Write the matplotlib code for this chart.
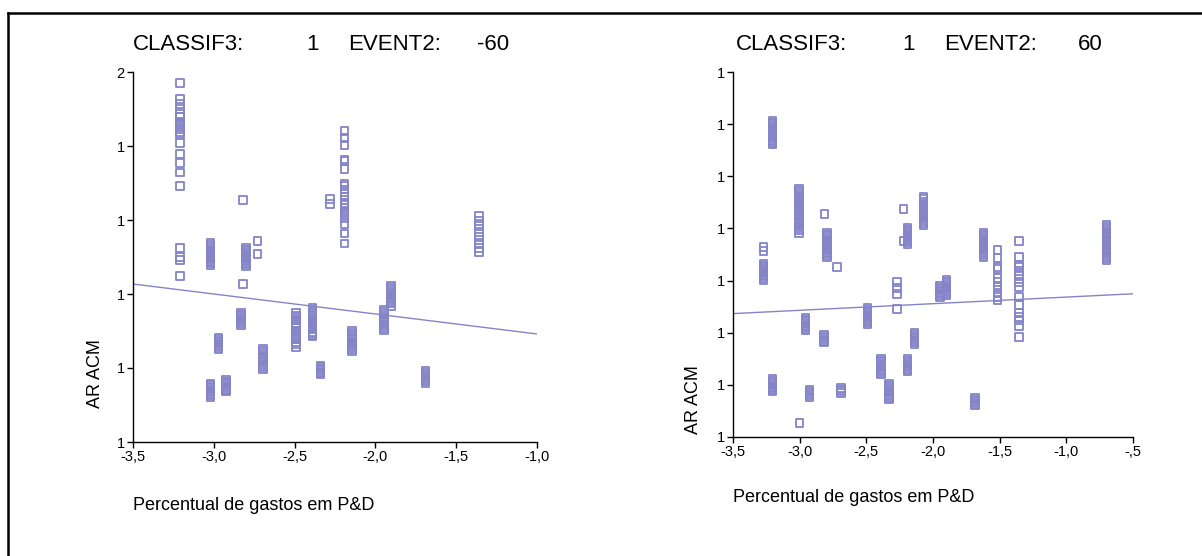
import matplotlib
matplotlib.use("Agg")
import matplotlib.pyplot as plt
from matplotlib.lines import Line2D
from matplotlib.ticker import FuncFormatter, FormatStrFormatter

plt.rcParams["font.family"] = ["Liberation Sans", "DejaVu Sans"]

PURPLE = "#8584c8"

# ---- left panel: CLASSIF3 = 1, EVENT2 = -60 ----
# one x value per column of points, with the y values read for that column
left_col_x = [-3.21, -3.02, -3.02, -2.97, -2.925, -2.82, -2.83, -2.80, -2.73,
              -2.695, -2.28, -2.19, -2.49, -2.39, -2.34, -2.145, -1.947,
              -1.903, -1.69, -1.36]
left_col_y = [
    [1.485, 1.4635, 1.457, 1.45, 1.443, 1.439, 1.432, 1.430, 1.426, 1.423,
     1.419, 1.416, 1.404, 1.389, 1.377, 1.364, 1.346, 1.262, 1.25, 1.246, 1.224],
    [1.269, 1.266, 1.264, 1.261, 1.259, 1.257, 1.255, 1.253, 1.251, 1.249,
     1.247, 1.245, 1.243, 1.241, 1.239],
    [1.079, 1.077, 1.075, 1.073, 1.071, 1.069, 1.067, 1.065, 1.063, 1.061],
    [1.141, 1.139, 1.137, 1.135, 1.133, 1.131, 1.129, 1.127, 1.125],
    [1.084, 1.082, 1.080, 1.078, 1.076, 1.074, 1.072, 1.070, 1.068],
    [1.327, 1.2135],
    [1.174, 1.172, 1.170, 1.168, 1.166, 1.164, 1.162, 1.160, 1.158],
    [1.262, 1.260, 1.258, 1.256, 1.254, 1.252, 1.250, 1.248, 1.246, 1.244,
     1.242, 1.240, 1.238],
    [1.272, 1.254],
    [1.126, 1.123, 1.120, 1.118, 1.115, 1.112, 1.109, 1.107, 1.104, 1.101, 1.099],
    [1.328, 1.322],
    [1.420, 1.411, 1.401, 1.382, 1.380, 1.369, 1.349, 1.346, 1.341, 1.332,
     1.327, 1.323, 1.320, 1.316, 1.311, 1.308, 1.303, 1.295, 1.282, 1.268],
    [1.174, 1.171, 1.169, 1.166, 1.164, 1.161, 1.159, 1.156, 1.154, 1.150,
     1.147, 1.145, 1.142, 1.139, 1.135, 1.132, 1.128],
    [1.181, 1.179, 1.176, 1.174, 1.172, 1.170, 1.167, 1.165, 1.163, 1.161,
     1.159, 1.156, 1.154, 1.152, 1.149, 1.147, 1.145, 1.143],
    [1.103, 1.101, 1.099, 1.097, 1.095, 1.093, 1.092],
    [1.150, 1.148, 1.145, 1.143, 1.141, 1.139, 1.136, 1.134, 1.132, 1.130,
     1.128, 1.126, 1.123],
    [1.178, 1.176, 1.173, 1.171, 1.168, 1.166, 1.164, 1.162, 1.159, 1.157,
     1.154, 1.151],
    [1.211, 1.208, 1.205, 1.203, 1.200, 1.198, 1.195, 1.192, 1.189, 1.187, 1.184],
    [1.096, 1.094, 1.092, 1.090, 1.088, 1.086, 1.084, 1.082, 1.080],
    [1.305, 1.299, 1.292, 1.284, 1.277, 1.269, 1.262, 1.257],
]
left_fit = (1.119, -0.027)          # intercept, slope
left_xticks = [-3.5, -3.0, -2.5, -2.0, -1.5, -1.0]
left_yticks = [1.0, 1.1, 1.2, 1.3, 1.4, 1.5]

# ---- right panel: CLASSIF3 = 1, EVENT2 = 60 ----
right_col_x = [-3.205, -3.27, -3.205, -3.005, -3.00, -2.955, -2.927, -2.815,
               -2.797, -2.817, -2.718, -2.688, -2.49, -2.39, -2.33, -2.272,
               -2.22, -2.19, -2.19, -2.07, -2.14, -1.948, -1.90, -1.685,
               -1.62, -1.515, -1.355, -0.70]
right_col_y = [
    [1.306, 1.303, 1.300, 1.297, 1.294, 1.291, 1.288, 1.285, 1.282, 1.279,
     1.276, 1.273, 1.270, 1.267, 1.264, 1.262],
    [1.064, 1.057, 1.032, 1.029, 1.026, 1.023, 1.020, 1.017, 1.014, 1.011,
     1.008, 1.005, 1.001],
    [0.811, 0.808, 0.805, 0.802, 0.799, 0.796, 0.793, 0.790, 0.788],
    [1.176, 1.172, 1.168, 1.164, 1.160, 1.156, 1.152, 1.148, 1.144, 1.140,
     1.136, 1.132, 1.128, 1.124, 1.120, 1.116, 1.112, 1.108, 1.104, 1.100,
     1.096, 1.091],
    [0.727],
    [0.928, 0.925, 0.922, 0.919, 0.916, 0.913, 0.910, 0.907, 0.905],
    [0.790, 0.787, 0.784, 0.781, 0.777],
    [1.128],
    [1.091, 1.088, 1.085, 1.082, 1.079, 1.076, 1.073, 1.070, 1.067, 1.064,
     1.061, 1.058, 1.055, 1.052, 1.048, 1.045],
    [0.896, 0.893, 0.890, 0.887, 0.884, 0.882],
    [1.026],
    [0.794, 0.791, 0.788, 0.784],
    [0.947, 0.944, 0.941, 0.938, 0.935, 0.932, 0.929, 0.926, 0.923, 0.920, 0.917],
    [0.850, 0.847, 0.844, 0.841, 0.838, 0.835, 0.832, 0.829, 0.826, 0.823, 0.821],
    [0.802, 0.799, 0.796, 0.793, 0.790, 0.787, 0.784, 0.781, 0.778, 0.775, 0.773],
    [0.997, 0.986, 0.974, 0.945],
    [1.137, 1.076],
    [1.101, 1.098, 1.095, 1.092, 1.089, 1.086, 1.083, 1.080, 1.077, 1.074, 1.070],
    [0.850, 0.847, 0.844, 0.841, 0.838, 0.835, 0.832, 0.829, 0.827],
    [1.160, 1.156, 1.152, 1.148, 1.145, 1.141, 1.137, 1.133, 1.130, 1.126,
     1.122, 1.118, 1.114, 1.110, 1.107],
    [0.899, 0.896, 0.893, 0.890, 0.887, 0.884, 0.881, 0.878],
    [0.990, 0.987, 0.984, 0.981, 0.978, 0.975, 0.972, 0.969],
    [1.001, 0.998, 0.995, 0.992, 0.989, 0.986, 0.983, 0.980, 0.977, 0.974, 0.972],
    [0.775, 0.772, 0.769, 0.766, 0.763, 0.761],
    [1.091, 1.088, 1.085, 1.082, 1.079, 1.076, 1.073, 1.070, 1.067, 1.064,
     1.061, 1.058, 1.055, 1.052, 1.048, 1.045],
    [1.059, 1.043, 1.026, 1.022, 1.005, 0.997, 0.988, 0.976, 0.969, 0.963],
    [1.076, 1.045, 1.030, 1.026, 1.018, 1.009, 0.997, 0.988, 0.969, 0.953,
     0.938, 0.930, 0.924, 0.913, 0.892],
    [1.107, 1.103, 1.099, 1.095, 1.091, 1.087, 1.083, 1.079, 1.075, 1.071,
     1.067, 1.063, 1.059, 1.055, 1.051, 1.047, 1.043, 1.039],
]
right_fit = (0.981, 0.01267)
right_xticks = [-3.5, -3.0, -2.5, -2.0, -1.5, -1.0, -0.5]
right_yticks = [0.7, 0.8, 0.9, 1.0, 1.1, 1.2, 1.3, 1.4]


def flatten(col_x, col_y):
    xs, ys = [], []
    for x, col in zip(col_x, col_y):
        xs += [x] * len(col)
        ys += col
    return xs, ys


def comma_fmt(v, pos):
    s = f"{v:.1f}".replace(".", ",")
    return s.replace("-0,", "-,")


def panel(fig, rect, col_x, col_y, fit, xticks, yticks, title_parts,
          ylab_xy, xlab_xy):
    xs, ys = flatten(col_x, col_y)
    ax = fig.add_axes(rect)
    ax.scatter(xs, ys, marker="s", s=30, facecolors="none",
               edgecolors=PURPLE, linewidths=1.3, zorder=3)
    x0, x1 = xticks[0], xticks[-1]
    ax.plot([x0, x1], [fit[0] + fit[1] * x0, fit[0] + fit[1] * x1],
            color=PURPLE, lw=1.0, zorder=2)
    ax.set_xlim(x0, x1)
    ax.set_ylim(yticks[0], yticks[-1])
    ax.set_xticks(xticks)
    ax.set_yticks(yticks)
    ax.xaxis.set_major_formatter(FuncFormatter(comma_fmt))
    ax.yaxis.set_major_formatter(FormatStrFormatter("%.0f"))
    ax.tick_params(direction="out", length=4, width=1, labelsize=10.5,
                   pad=2, colors="black")
    for side in ("top", "right"):
        ax.spines[side].set_visible(False)
    for side in ("left", "bottom"):
        ax.spines[side].set_linewidth(1.0)
    for px, txt in title_parts:
        fig.text(px / 1202, 1 - 44 / 556, txt, fontsize=16, ha="left", va="center")
    fig.text(ylab_xy[0] / 1202, 1 - ylab_xy[1] / 556, "AR ACM", fontsize=13,
             rotation=90, ha="center", va="center")
    fig.text(xlab_xy[0] / 1202, 1 - xlab_xy[1] / 556, "Percentual de gastos em P&D",
             fontsize=13, ha="left", va="center")
    return ax


fig = plt.figure(figsize=(12.02, 5.56), dpi=100)

panel(fig, [133 / 1202, 1 - 442 / 556, 404 / 1202, 370 / 556],
      left_col_x, left_col_y, left_fit, left_xticks, left_yticks,
      [(133, "CLASSIF3:"), (306, "1"), (348, "EVENT2:"), (477, "-60")],
      (95, 374), (133, 506))
panel(fig, [733 / 1202, 1 - 437 / 556, 400 / 1202, 365 / 556],
      right_col_x, right_col_y, right_fit, right_xticks, right_yticks,
      [(736, "CLASSIF3:"), (902, "1"), (944, "EVENT2:"), (1078, "60")],
      (693, 400), (733, 498))

# frame lines at top and left edge
fig.add_artist(Line2D([7.5 / 1202, 1], [1 - 12.5 / 556] * 2,
                      transform=fig.transFigure, color="black", lw=1.8))
fig.add_artist(Line2D([7.5 / 1202] * 2, [0, 1 - 12.5 / 556],
                      transform=fig.transFigure, color="black", lw=1.8))

fig.savefig("out.png", dpi=100)
